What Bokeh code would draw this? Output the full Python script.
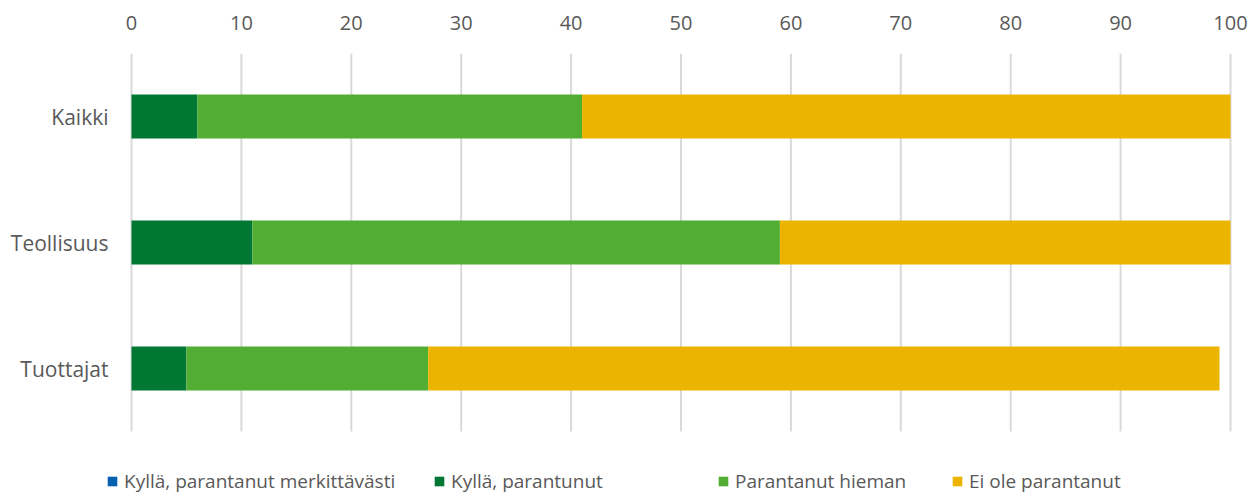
from bokeh.plotting import figure
from bokeh.models import Range1d, Legend, LegendItem, ColumnDataSource, FixedTicker
from bokeh.core.properties import value
from bokeh.embed import file_html
from bokeh.resources import INLINE

categories = ["Kaikki", "Teollisuus", "Tuottajat"]
series = ["Kyllä, parantanut merkittävästi", "Kyllä, parantunut", "Parantanut hieman", "Ei ole parantanut"]
merkittavasti = [0, 0, 0]
parantunut = [6, 11, 5]
hieman = [35, 48, 22]
ei_ole = [59, 41, 72]
colors = ["#0560B0", "#007733", "#52AE33", "#EAB400"]
ticks = list(range(0, 101, 10))

FONT = "Open Sans"
TXT = "#595959"

# layout (pixels)
PX_PER_UNIT = 10.99
LEFT_PX, RIGHT_PX = 131, 18
ROW_PX, LEGEND_PX = 126, 64
n = len(categories)
pos = list(range(n))

keys = ["s0", "s1", "s2", "s3"]
src = ColumnDataSource(dict(cat=categories, pos=pos, s0=merkittavasti, s1=parantunut, s2=hieman, s3=ei_ole))

frame_w = LEFT_PX + 1099 + RIGHT_PX
frame_h = n * ROW_PX + LEGEND_PX
p = figure(frame_width=frame_w, frame_height=frame_h,
           x_range=Range1d(-LEFT_PX / PX_PER_UNIT, 100 + RIGHT_PX / PX_PER_UNIT),
           y_range=Range1d(n - 0.5 + LEGEND_PX / ROW_PX, -0.5),
           x_axis_location="above", y_axis_location=None,
           output_backend="svg", toolbar_location=None,
           min_border_left=0, min_border_right=0, min_border_top=53, min_border_bottom=0)
p.outline_line_color = None
p.xgrid.grid_line_color = None
p.ygrid.grid_line_color = None

# vertical gridlines spanning the category area
p.segment(x0=ticks, x1=ticks, y0=[-0.5] * len(ticks), y1=[n - 0.5] * len(ticks),
          line_color="#D9D9D9", line_width=2)

rs = p.hbar_stack(keys, y="pos", height=0.35, color=colors, source=src, line_color=None)

# category labels
p.text(x=[0] * n, y=pos, text=categories, x_offset=-23,
       text_align="right", text_baseline="middle",
       text_font=value(FONT), text_font_size=value("21px"), text_color=TXT)

p.xaxis.ticker = FixedTicker(ticks=ticks)
p.xaxis.axis_line_color = None
p.xaxis.major_tick_line_color = None
p.xaxis.minor_tick_line_color = None
p.xaxis.major_label_text_font = FONT
p.xaxis.major_label_text_font_size = "20px"
p.xaxis.major_label_text_color = TXT
p.xaxis.major_label_standoff = 18

xpos = [106, 433, 717, 951]
for s, r, x in zip(series, rs, xpos):
    lg = Legend(items=[LegendItem(label=s, renderers=[r])],
                orientation="horizontal", location=(x, 1),
                label_text_font=FONT, label_text_font_size="19px", label_text_color=TXT,
                glyph_width=12, glyph_height=12, spacing=0, label_standoff=6,
                border_line_color=None, background_fill_alpha=0, padding=0, margin=0)
    p.add_layout(lg, "center")

open("out.html", "w").write(file_html(p, INLINE))
